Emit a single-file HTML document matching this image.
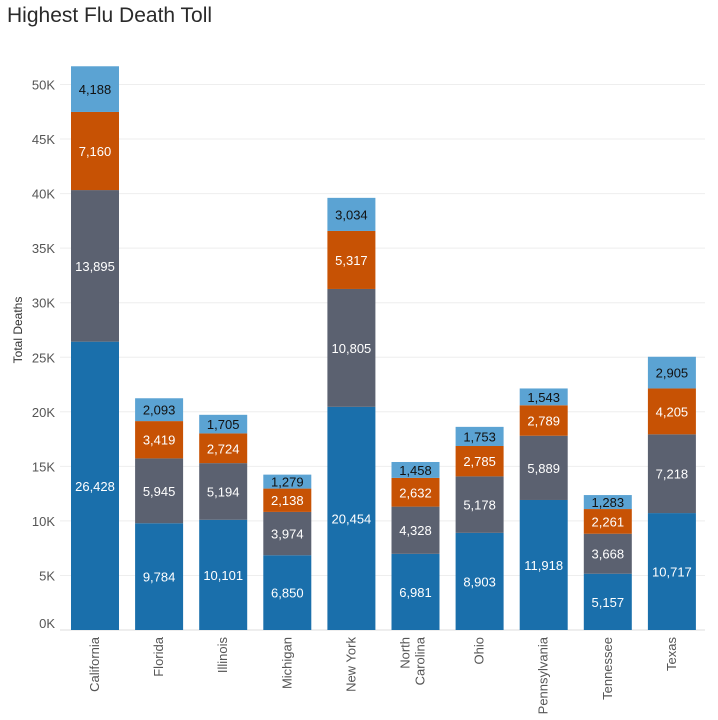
<!DOCTYPE html>
<html><head><meta charset="utf-8"><style>
body{margin:0;background:#fff;font-family:"Liberation Sans",Arial,sans-serif;}
#title{position:absolute;left:7px;top:4px;font-size:21px;color:#2a2a2a;}
</style></head><body>
<div id="title">Highest Flu Death Toll</div>
<svg id="chart" width="718" height="720" style="position:absolute;left:0;top:0"></svg>
<script>
const categories=["California","Florida","Illinois","Michigan","New York","North Carolina","Ohio","Pennsylvania","Tennessee","Texas"];
const seriesBlue=[26428,9784,10101,6850,20454,6981,8903,11918,5157,10717];
const seriesGray=[13895,5945,5194,3974,10805,4328,5178,5889,3668,7218];
const seriesOrange=[7160,3419,2724,2138,5317,2632,2785,2789,2261,4205];
const seriesLight=[4188,2093,1705,1279,3034,1458,1753,1543,1283,2905];
const yTicks=[0,5000,10000,15000,20000,25000,30000,35000,40000,45000,50000];
const yTickLabels=["0K","5K","10K","15K","20K","25K","30K","35K","40K","45K","50K"];
const ns="http://www.w3.org/2000/svg",svg=document.getElementById("chart");
const y0=630,pxPer=(630-84.5)/50000,bandL=62,band=64.1,barW=48;
const y=v=>y0-v*pxPer, xb=i=>bandL+i*band+9;
function mk(t,a){const e=document.createElementNS(ns,t);for(const k in a)e.setAttribute(k,a[k]);svg.appendChild(e);return e;}
yTicks.forEach((t,i)=>{
  const g=mk("line",{x1:60,x2:705,y1:y(t),y2:y(t),stroke:i?"#eeeeee":"#dddddd","stroke-width":1});
  
  
  const l=mk("text",{x:55,y:y(t)+5-(i===0?7:0),"text-anchor":"end","font-size":13,fill:"#555"});
  l.textContent=yTickLabels[i];
  
  
});
const yt=mk("text",{x:22,y:330,"text-anchor":"middle","font-size":12,fill:"#333",transform:"rotate(-90 22 330)"});
yt.textContent="Total Deaths";


const series=[[seriesBlue,"#1a6fab","#fff"],[seriesGray,"#5b6170","#fff"],[seriesOrange,"#c75204","#fff"],[seriesLight,"#5ba3d3","#111"]];
const fmt=v=>v.toLocaleString("en-US");
categories.forEach((c,i)=>{
  let base=0;
  series.forEach(([arr,col,tc],s)=>{
    const v=arr[i],top=base+v;
    const r=mk("rect",{x:xb(i),y:y(top),width:barW,height:y(base)-y(top),fill:col});
    
    
    const t=mk("text",{x:xb(i)+barW/2,y:(y(base)+y(top))/2+5,"text-anchor":"middle","font-size":13,fill:tc});
    t.textContent=fmt(v);
    
    
    base=top;
  });
  const cx=xb(i)+barW/2;
  const parts=c==="North Carolina"?["North","Carolina"]:[c];
  parts.forEach((p,k)=>{
    const off=parts.length>1?(k===0?-6:9):4;
    const t=mk("text",{x:cx+off,y:637,"text-anchor":"end","font-size":13,fill:"#555",transform:`rotate(-90 ${cx+off} 637)`});
    t.textContent=p;
    
    
  });
});
</script>
</body></html>
